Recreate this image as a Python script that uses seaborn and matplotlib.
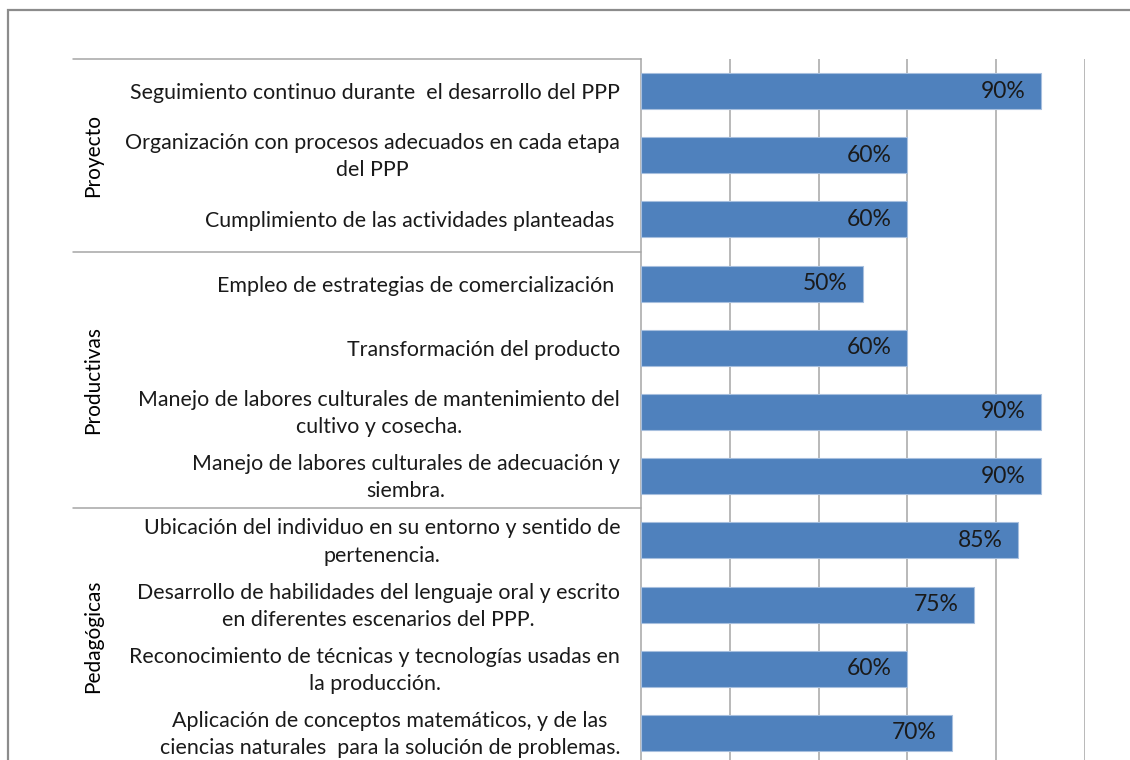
import matplotlib.pyplot as plt
from matplotlib.patches import Rectangle
import matplotlib.transforms as mtransforms
import pandas as pd
import seaborn as sns

sns.set_theme(style="white")
plt.rcParams['font.family'] = ['Lato', 'DejaVu Sans']

categories = [
    "Seguimiento continuo durante  el desarrollo del PPP",
    "Organización con procesos adecuados en cada etapa\ndel PPP",
    "Cumplimiento de las actividades planteadas ",
    "Empleo de estrategias de comercialización ",
    "Transformación del producto",
    "Manejo de labores culturales de mantenimiento del\ncultivo y cosecha.",
    "Manejo de labores culturales de adecuación y\nsiembra.",
    "Ubicación del individuo en su entorno y sentido de\npertenencia.",
    "Desarrollo de habilidades del lenguaje oral y escrito\nen diferentes escenarios del PPP.",
    "Reconocimiento de técnicas y tecnologías usadas en\nla producción.",
    "Aplicación de conceptos matemáticos, y de las\nciencias naturales  para la solución de problemas.",
]
values = [0.90, 0.60, 0.60, 0.50, 0.60, 0.90, 0.90, 0.85, 0.75, 0.60, 0.70]
groups = ["Proyecto", "Productivas", "Pedagógicas"]
group_sizes = [3, 4, 4]

df = pd.DataFrame({"item": categories, "value": values})

W, H = 1130, 760
fig = plt.figure(figsize=(W / 100, H / 100), dpi=100)
ax = fig.add_axes([641 / W, (H - 765) / H, 444 / W, 706 / H])

sns.barplot(data=df, x="value", y="item", order=categories, orient="h",
            color="#4F81BD", saturation=1, width=0.56,
            edgecolor="#A7BFDE", linewidth=0.8, ax=ax, zorder=3)

ax.set_xlim(0, 1)
ax.set_ylim(len(categories) - 0.5, -0.5)
ax.set_xticks([0.2, 0.4, 0.6, 0.8, 1.0])
ax.set_xticklabels([])
ax.grid(axis="x", color="#A6A6A6", linewidth=1.1, zorder=0)
ax.set_axisbelow(True)
for s in ["top", "right", "bottom"]:
    ax.spines[s].set_visible(False)
ax.spines["left"].set_color("#A6A6A6")
ax.spines["left"].set_linewidth(1.1)
ax.set_xlabel("")
ax.set_ylabel("")
ax.tick_params(axis="y", length=0, pad=15)
ax.tick_params(axis="x", length=0)
ax.set_yticks(range(len(categories)))
ax.set_yticklabels(categories, fontsize=15.4, color="#1a1a1a",
                   ha="right", multialignment="center", linespacing=1.45)
# two-line labels sit a little high, centred on the bar
up = mtransforms.ScaledTranslation(0, 4 / 100, fig.dpi_scale_trans)
for lbl in ax.get_yticklabels():
    if "\n" in lbl.get_text():
        lbl.set_transform(lbl.get_transform() + up)

# value labels inside the bar end
for p, v in zip(ax.patches, values):
    ax.annotate(f"{v:.0%}", (p.get_width(), p.get_y() + p.get_height() / 2),
                xytext=(-11, 0), textcoords="offset points",
                ha="right", va="center", fontsize=16.5, color="#1a1a1a", zorder=4)

# group separators and labels
trans = mtransforms.blended_transform_factory(ax.transAxes, ax.transData)
x_left = (73 - 641) / 444
bounds = [-0.5]
for n in group_sizes:
    bounds.append(bounds[-1] + n)
for b in bounds[:-1]:
    ax.plot([x_left, 0], [b, b], transform=trans, color="#A6A6A6",
            linewidth=1.1, clip_on=False)
for g, lo, hi in zip(groups, bounds[:-1], bounds[1:]):
    ax.text((93 - 641) / 444, (lo + hi) / 2, g, transform=trans, rotation=90,
            ha="center", va="center", fontsize=15, color="black")

# outer chart frame
fig.patches.append(Rectangle((8 / W, -0.1), 1.2, 1 - 10 / H + 0.1,
                             transform=fig.transFigure, fill=False,
                             edgecolor="#8C8C8C", linewidth=1.6))

fig.savefig("out.png", dpi=100)
